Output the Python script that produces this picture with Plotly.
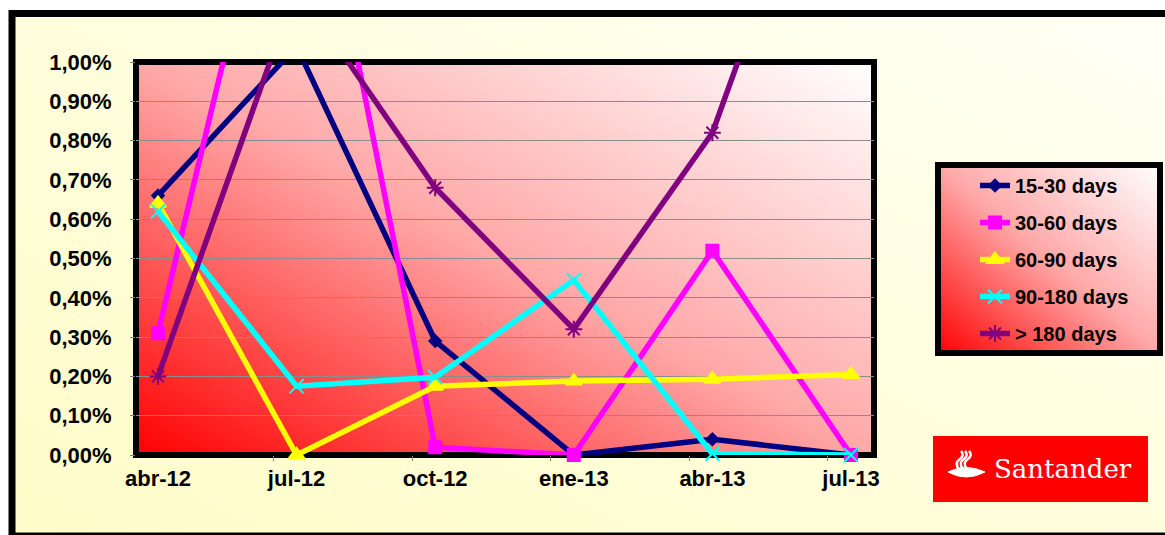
import base64
import plotly.graph_objects as go

# ---------------- data ----------------
categories = ["abr-12", "jul-12", "oct-12", "ene-13", "abr-13", "jul-13"]
series_names = ["15-30 days", "30-60 days", "60-90 days", "90-180 days", "> 180 days"]
# values in percent
s_15_30 = [0.66, 1.04, 0.29, 0.00, 0.04, 0.00]
s_30_60 = [0.31, 1.78, 0.02, 0.00, 0.52, 0.00]
s_60_90 = [0.64, 0.00, 0.175, 0.188, 0.193, 0.205]
s_90_180 = [0.62, 0.175, 0.198, 0.445, 0.003, 0.00]
s_180 = [0.20, 1.19, 0.68, 0.32, 0.82, 1.80]
y_ticks = [0.0, 0.1, 0.2, 0.3, 0.4, 0.5, 0.6, 0.7, 0.8, 0.9, 1.0]

colors = ["#000080", "#FF00FF", "#FFFF00", "#00FFFF", "#800080"]
symbols = ["diamond", "square", "triangle-up", "x-thin", "asterisk"]
msizes = [9, 12, 14, 14, 14]

# ---------------- layout geometry (pixels) ----------------
W, H = 1165, 535
PL, PR, PT, PB = 136, 874, 62, 455  # plot area edges
PW, PH = PR - PL, PB - PT


def xp(px):
    return (px - PL) / PW


def yp(py):
    return (PB - py) / PH


def svg_grad(c0, cmid, c1):
    svg = (
        '<svg xmlns="http://www.w3.org/2000/svg" width="200" height="200" preserveAspectRatio="none">'
        '<defs><linearGradient id="g" x1="0" y1="1" x2="1" y2="0">'
        f'<stop offset="0" stop-color="{c0}"/>'
        f'<stop offset="0.5" stop-color="{cmid}"/>'
        f'<stop offset="1" stop-color="{c1}"/>'
        '</linearGradient></defs>'
        '<rect x="0" y="0" width="200" height="200" fill="url(#g)"/></svg>'
    )
    return "data:image/svg+xml;base64," + base64.b64encode(svg.encode()).decode()


fig = go.Figure()

all_series = [s_15_30, s_30_60, s_60_90, s_90_180, s_180]
xs = list(range(len(categories)))
for name, vals, col, sym, ms in zip(series_names, all_series, colors, symbols, msizes):
    fig.add_trace(
        go.Scatter(
            x=xs,
            y=[v / 100 for v in vals],
            name=name,
            legendgroup=name,
            mode="lines+markers",
            line=dict(color=col, width=5.5),
            marker=dict(symbol=sym, size=ms, color=col, line=dict(color=col, width=2)),
            cliponaxis=False,
        )
    )

spacing = (851 - 158) / 5
x_lo = (PL - 158) / spacing
x_hi = 5 + (PR - 851) / spacing

images = [
    # outer background
    dict(source=svg_grad("#FFFCC8", "#FFFEDC", "#FFFFF6"), xref="paper", yref="paper",
         x=xp(12), y=yp(13), sizex=xp(1170) - xp(12), sizey=yp(13) - yp(536),
         xanchor="left", yanchor="top", sizing="stretch", layer="below"),
    # plot area gradient
    dict(source=svg_grad("#FF0000", "#FFA8A8", "#FFFFFF"), xref="paper", yref="paper",
         x=0, y=1, sizex=1, sizey=1, xanchor="left", yanchor="top", sizing="stretch", layer="below"),
    # legend gradient
    dict(source=svg_grad("#FF0000", "#FFA8A8", "#FFFFFF"), xref="paper", yref="paper",
         x=xp(938), y=yp(165), sizex=xp(1160) - xp(938), sizey=yp(165) - yp(353),
         xanchor="left", yanchor="top", sizing="stretch", layer="below"),
]

shapes = [
    # outer frame
    dict(type="rect", xref="paper", yref="paper", x0=xp(12), x1=xp(1172), y0=yp(13.5), y1=yp(536),
         line=dict(color="black", width=7), fillcolor="rgba(0,0,0,0)", layer="below"),
    # plot frame
    dict(type="rect", xref="paper", yref="paper", x0=0, x1=1, y0=0, y1=1,
         line=dict(color="black", width=6), fillcolor="rgba(0,0,0,0)", layer="below"),
    # legend frame
    dict(type="rect", xref="paper", yref="paper", x0=xp(938), x1=xp(1160), y0=yp(165), y1=yp(353),
         line=dict(color="black", width=6), fillcolor="rgba(0,0,0,0)", layer="below"),
    # Santander logo box
    dict(type="rect", xref="paper", yref="paper", x0=xp(933), x1=xp(1148), y0=yp(436), y1=yp(502),
         line=dict(width=0), fillcolor="#FF0000", layer="above"),
]


def path(points_cmds):
    out = []
    for cmd in points_cmds:
        if isinstance(cmd, str):
            out.append(cmd)
        else:
            out.append(f"{xp(cmd[0]):.5f},{yp(cmd[1]):.5f}")
    return " ".join(out)


# flame logo: base
shapes.append(dict(type="path", xref="paper", yref="paper", layer="above",
                   path=path(["M", (948, 472), "Q", (966, 463), (985, 472), "Q", (966, 482), (948, 472), "Z"]),
                   fillcolor="white", line=dict(color="white", width=1)))
for dx in (-4, 0, 4):
    shapes.append(dict(type="path", xref="paper", yref="paper", layer="above",
                       path=path(["M", (963 + dx, 469), "Q", (958 + dx, 463), (964 + dx, 459),
                                  "Q", (969 + dx, 455), (965 + dx, 451)]),
                       line=dict(color="white", width=2.5)))

annotations = [
    dict(text="Santander", xref="paper", yref="paper", x=xp(992), y=yp(469), xanchor="left",
         yanchor="middle", showarrow=False,
         font=dict(family="DejaVu Serif", size=26, color="white")),
]

fig.update_layout(
    width=W,
    height=H,
    margin=dict(l=PL, r=W - PR, t=PT, b=H - PB, pad=0),
    paper_bgcolor="white",
    plot_bgcolor="rgba(0,0,0,0)",
    separators=",.",
    font=dict(family="Arial, Liberation Sans, sans-serif", color="black"),
    xaxis=dict(
        range=[x_lo, x_hi],
        tickmode="array",
        tickvals=xs,
        ticktext=categories,
        ticks="",
        showgrid=False,
        zeroline=False,
        showline=False,
        tickfont=dict(size=22, family="Arial, Liberation Sans, sans-serif", weight="bold"),
        ticklabelstandoff=8,
        minor=dict(tickmode="array", tickvals=[k - 0.167 for k in xs], ticks="outside",
                   ticklen=5, tickcolor="#808080", tickwidth=1, showgrid=False),
    ),
    yaxis=dict(
        range=[0, 0.01],
        tickmode="array",
        tickvals=[v / 100 for v in y_ticks],
        tickformat=".2%",
        ticks="outside",
        ticklen=5,
        tickcolor="#808080",
        showgrid=True,
        gridcolor="#8C8C8C",
        gridwidth=1,
        zeroline=False,
        showline=False,
        tickfont=dict(size=22, family="Arial, Liberation Sans, sans-serif", weight="bold"),
        ticklabelstandoff=14,
    ),
    legend=dict(
        x=xp(975),
        y=yp(166),
        xanchor="left",
        yanchor="top",
        bgcolor="rgba(0,0,0,0)",
        borderwidth=0,
        tracegroupgap=8,
        font=dict(size=20, family="Arial, Liberation Sans, sans-serif", weight="bold", color="black"),
    ),
    images=images,
    shapes=shapes,
    annotations=annotations,
    showlegend=True,
)

fig.write_html(
    "out.html",
    config={"displayModeBar": False},
    post_script="document.documentElement.style.margin='0';document.body.style.margin='0';"
                "document.body.style.overflow='hidden';",
)
